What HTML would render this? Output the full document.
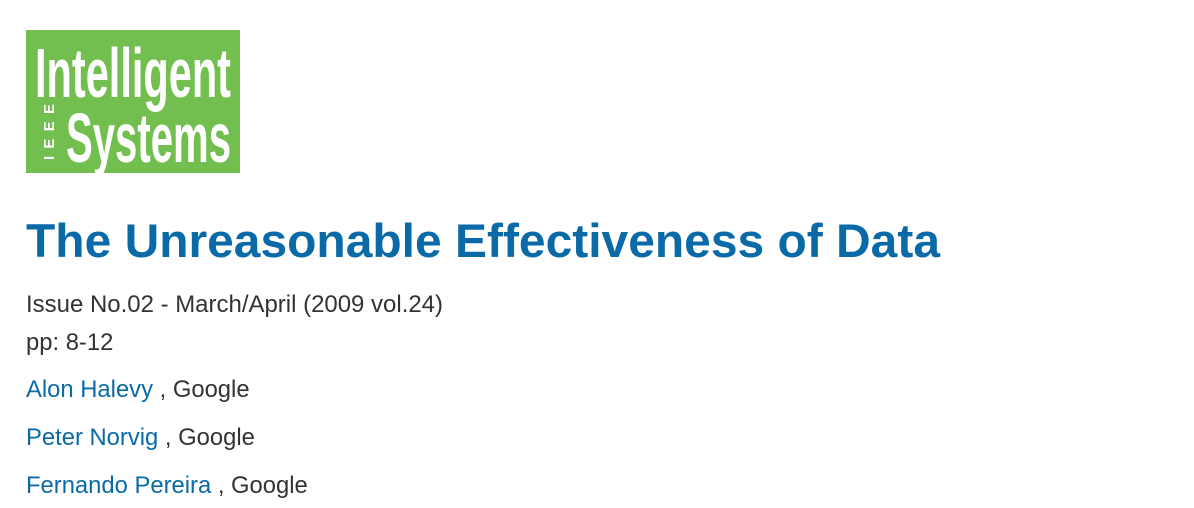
<!DOCTYPE html>
<html><head><meta charset="utf-8"><style>
html,body{margin:0;padding:0;background:#fff;width:1194px;height:508px;overflow:hidden}
</style></head><body>
<svg width="1194" height="508" xmlns="http://www.w3.org/2000/svg" style="display:block">
<rect x="26" y="30" width="214" height="143" fill="#72bf4f"/>
<text x="35" y="97" font-family="Liberation Sans Narrow, Liberation Sans, sans-serif" font-weight="bold" font-size="70" fill="#fff" textLength="196" lengthAdjust="spacingAndGlyphs">Intelligent</text>
<text x="66" y="162" font-family="Liberation Sans Narrow, Liberation Sans, sans-serif" font-weight="bold" font-size="70" fill="#fff" textLength="165" lengthAdjust="spacingAndGlyphs">Systems</text>
<text transform="translate(54,160) rotate(-90)" font-family="Liberation Sans, sans-serif" font-weight="bold" font-size="15" fill="#fff" textLength="56" lengthAdjust="spacing">IEEE</text>
<text x="26" y="257" font-family="Liberation Sans, sans-serif" font-weight="bold" font-size="47" fill="#0a6aa8" textLength="914" lengthAdjust="spacingAndGlyphs">The Unreasonable Effectiveness of Data</text>
<g font-family="Liberation Sans, sans-serif" font-size="23.8" fill="#333">
<text x="26" y="312" textLength="417" lengthAdjust="spacingAndGlyphs">Issue No.02 - March/April (2009 vol.24)</text>
<text x="26" y="350">pp: 8-12</text>
<text x="26" y="397"><tspan fill="#0a6aa8">Alon Halevy</tspan> , Google</text>
<text x="26" y="445"><tspan fill="#0a6aa8">Peter Norvig</tspan> , Google</text>
<text x="26" y="493"><tspan fill="#0a6aa8">Fernando Pereira</tspan> , Google</text>
</g>
</svg>
</body></html>
